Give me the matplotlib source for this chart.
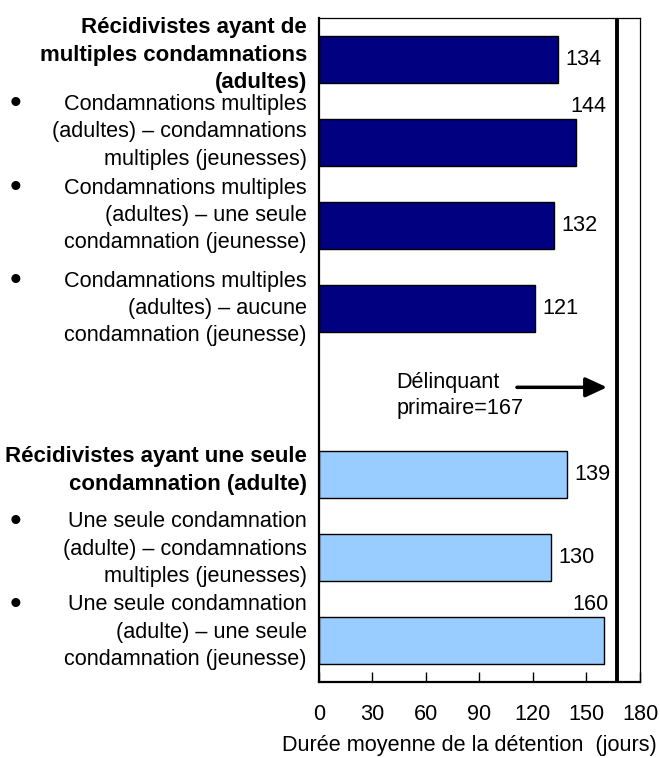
import matplotlib.pyplot as plt
import matplotlib.transforms as mtransforms

plt.rcParams['font.family'] = ['Liberation Sans', 'DejaVu Sans']

# Données
labels = [
    "Récidivistes ayant de\nmultiples condamnations\n(adultes)",
    "Condamnations multiples\n(adultes) – condamnations\nmultiples (jeunesses)",
    "Condamnations multiples\n(adultes) – une seule\ncondamnation (jeunesse)",
    "Condamnations multiples\n(adultes) – aucune\ncondamnation (jeunesse)",
    "Récidivistes ayant une seule\ncondamnation (adulte)",
    "Une seule condamnation\n(adulte) – condamnations\nmultiples (jeunesses)",
    "Une seule condamnation\n(adulte) – une seule\ncondamnation (jeunesse)",
]
values = [134, 144, 132, 121, 139, 130, 160]
slots = [0, 1, 2, 3, 5, 6, 7]
is_header = [True, False, False, False, True, False, False]
groups = ["multi", "multi", "multi", "multi", "single", "single", "single"]
first_offender = 167
xticks = [0, 30, 60, 90, 120, 150, 180]

colors = {"multi": "#000080", "single": "#99CCFF"}
# petits decalages des libelles (en fraction de case), comme dans l'original
label_shift = [-0.05, -0.13, -0.12, 0.0, -0.05, -0.1, -0.1]

fs = 15.6

fig = plt.figure(figsize=(6.6, 7.58), dpi=100)
ax = fig.add_axes([0.4833, 0.1003, 0.4864, 0.876])

ax.barh(slots, values, height=0.57, color=[colors[g] for g in groups],
        edgecolor="black", linewidth=1.0)
ax.axvline(first_offender, color="black", linewidth=2.8)

ax.set_xlim(0, 180)
ax.set_ylim(7.5, -0.5)
ax.set_yticks([])
ax.set_xticks(xticks)
ax.tick_params(axis="x", direction="in", length=7, width=1, pad=16, labelsize=fs)
for side in ["left", "bottom"]:
    ax.spines[side].set_linewidth(1.6)
for side in ["top", "right"]:
    ax.spines[side].set_linewidth(0.9)

ax.set_xlabel("Durée moyenne de la détention  (jours)", fontsize=fs, labelpad=7)
ax.xaxis.label.set_x(0.47)

# valeurs
for s, v in zip(slots, values):
    if v in (144, 160):
        ax.text(v + (7 if v == 144 else -8), s - 0.43, str(v), ha="center",
                va="center", fontsize=fs)
    else:
        ax.text(v + 4, s, str(v), ha="left", va="center", fontsize=fs)

# libelles a gauche
trans = mtransforms.blended_transform_factory(fig.transFigure, ax.transData)
for s, lab, hd, sh in zip(slots, labels, is_header, label_shift):
    y = s + sh
    ax.text(0.465, y, lab, transform=trans, ha="right", va="center",
            fontsize=16 if hd else fs, fontweight="bold" if hd else "normal",
            linespacing=1.4, clip_on=False)
    if not hd:
        nlines = lab.count("\n") + 1
        ax.text(0.023, y - (nlines - 1) / 2 * 0.325, "•", transform=trans,
                ha="center", va="center", fontsize=24, clip_on=False)

# delinquant primaire
ax.text(43.5, 4.05, "Délinquant\nprimaire=167", ha="left", va="center",
        fontsize=fs, linespacing=1.3)
ax.annotate("", xy=(161.5, 3.95), xytext=(111, 3.95),
            arrowprops=dict(arrowstyle="-|>,head_length=1.3,head_width=0.6",
                            color="black", linewidth=2.5,
                            shrinkA=0, shrinkB=0))

fig.savefig("out.png", dpi=100)
